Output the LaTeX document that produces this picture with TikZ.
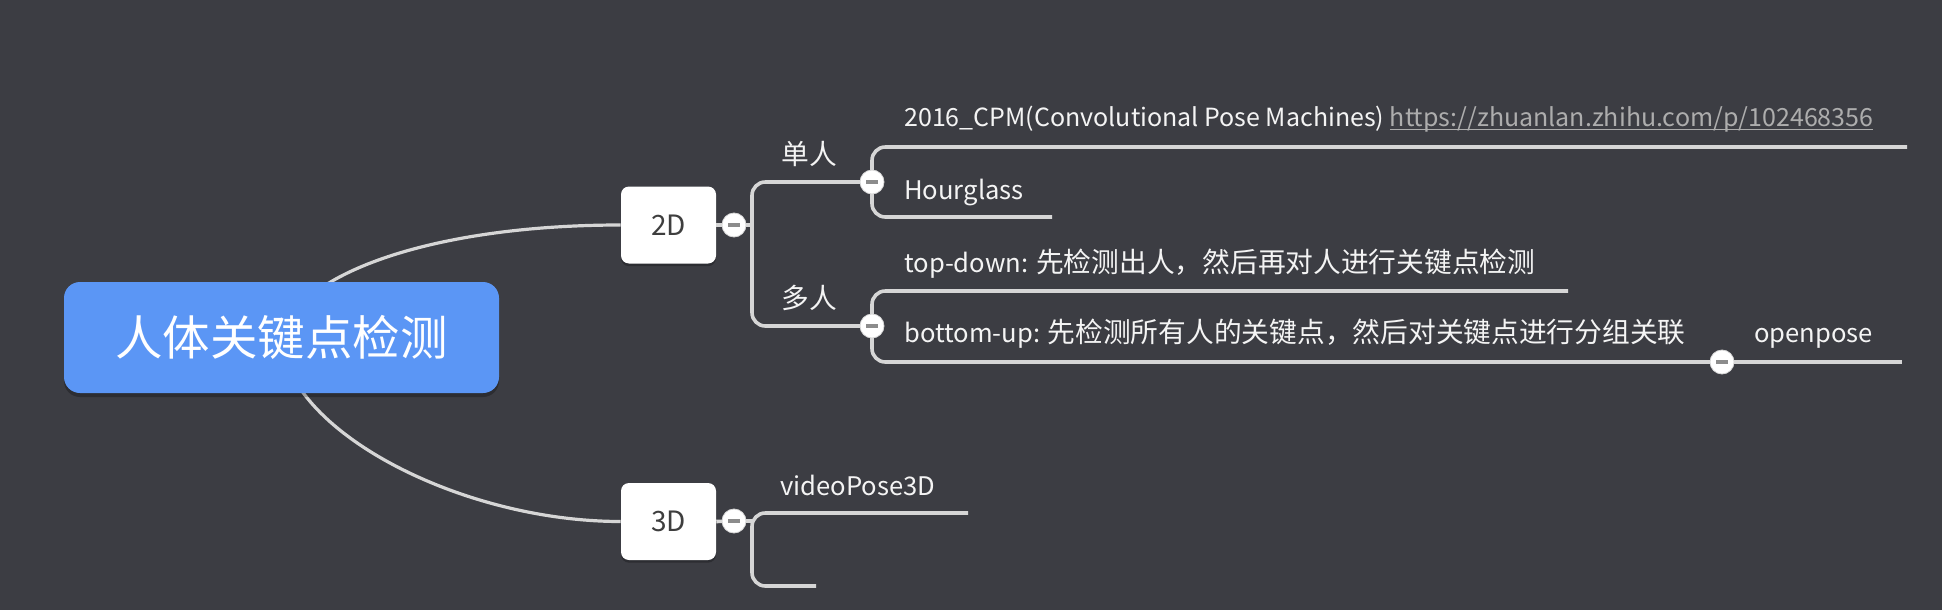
\documentclass[tikz,border=0pt]{standalone}
\usepackage{fontspec}
\setmainfont{Noto Sans CJK SC}
\usetikzlibrary{shadows}
\definecolor{bg}{HTML}{3C3D43}
\definecolor{rootblue}{HTML}{5B96F5}
\definecolor{linegray}{HTML}{D6D6D6}
\definecolor{txt}{HTML}{F4F4F4}
\definecolor{urlgray}{HTML}{ADADAD}
\definecolor{boxtext}{HTML}{3E3E3E}
\definecolor{minusgray}{HTML}{8C8C8C}
\pgfdeclarelayer{bglayer}
\pgfdeclarelayer{lines}
\pgfsetlayers{bglayer,lines,main}
\newcommand{\CJ}[1]{{\fontsize{20.8pt}{25pt}\selectfont #1}}
\newcommand{\ulink}[1]{\setbox0\hbox{#1}\rlap{\raisebox{-2.6pt}{\rule{\wd0}{0.9pt}}}\box0}
\begin{document}
\begin{tikzpicture}[x=0.75pt,y=-0.75pt,
  conn/.style={draw=linegray, line width=2.7pt, rounded corners=10pt},
  curve/.style={draw=linegray, line width=2.4pt},
  rootbox/.style={fill=rootblue, rounded corners=12pt, minimum width=326.25pt, minimum height=83.25pt,
    text=white, font=\fontsize{35.6pt}{42pt}\selectfont, inner sep=0pt,
    drop shadow={shadow xshift=0pt, shadow yshift=-3pt, opacity=0.25, fill=black}},
  topicbox/.style={fill=white, rounded corners=6pt, minimum width=71.25pt, minimum height=57.75pt,
    text=boxtext, font=\fontsize{21pt}{25pt}\selectfont, inner sep=0pt,
    drop shadow={shadow xshift=0pt, shadow yshift=-2pt, opacity=0.25, fill=black}},
  collapse/.style={circle, fill=white, draw=linegray, line width=0.6pt, minimum size=18pt, inner sep=0pt,
    path picture={\draw[minusgray, line width=3pt] ([xshift=-4.5pt]path picture bounding box.center) -- ([xshift=4.5pt]path picture bounding box.center);}},
  lbl/.style={anchor=base west, inner sep=0pt, text=txt, font=\fontsize{19.2pt}{23pt}\selectfont}
]
\begin{pgfonlayer}{bglayer}
\fill[bg] (0,0) rectangle (1942,610);
\end{pgfonlayer}
\useasboundingbox (0,0) rectangle (1942,610);

% main nodes
\node[rootbox] (root) at (281.5,337.5) {人体关键点检测};
\node[topicbox] (n2d) at (668.5,225) {2D};
\node[topicbox] (n3d) at (668.5,521.5) {3D};

% collapse buttons
\node[collapse] (c2d) at (734,225) {};
\node[collapse] (c3d) at (734,521) {};
\node[collapse] (cs) at (872,182) {};
\node[collapse] (cm) at (872,326) {};
\node[collapse] (co) at (1722,362) {};

% labels
\node[lbl] (single) at (781,164) {\CJ{单人}};
\node[lbl] (multi) at (781,308) {\CJ{多人}};
\node[lbl, font=\fontsize{18.75pt}{23pt}\selectfont] (cpm) at (904,127) {2016\_CPM(Convolutional Pose Machines) \textcolor{urlgray}{\ulink{https://zhuanlan.zhihu.com/p/102468356}}};
\node[lbl] (hg) at (904,199) {Hourglass};
\node[lbl] (td) at (904,272) {top-down: \CJ{先检测出人，然后再对人进行关键点检测}};
\node[lbl] (bu) at (904,342) {bottom-up: \CJ{先检测所有人的关键点，然后对关键点进行分组关联}};
\node[lbl] (op) at (1754,342) {openpose};
\node[lbl] (vp) at (780,495) {videoPose3D};

% helper coordinates
\coordinate (b2d) at (752,250);
\coordinate (b3d) at (752,550);
\coordinate (e1) at (1907,147);
\coordinate (e2) at (1052,217);
\coordinate (e3) at (1568,291);
\coordinate (e5) at (1902,362);
\coordinate (v1) at (968,513);
\coordinate (v2) at (816,586);

\begin{pgfonlayer}{lines}
\draw[curve] (root.center) .. controls (295,275) and (430,225) .. (n2d.west);
\draw[curve] (root.center) .. controls (285,430) and (460,521.5) .. (n3d.west);
\draw[conn] (n2d.east) -- (c2d.center);
\draw[conn] (n3d.east) -- (c3d.center);
\draw[conn] (c2d.center) -- (c2d.center -| b2d);
\draw[conn] (cs.center) -| (b2d) |- (cm.center);
\draw[conn] (e1) -| (cs.center) |- (e2);
\draw[conn] (e3) -| (cm.center) |- (co.center);
\draw[conn] (co.center) -- (e5);
\draw[conn] (c3d.center) -- (c3d.center -| b3d);
\draw[conn] (v1) -| (b3d) |- (v2);
\end{pgfonlayer}
\end{tikzpicture}
\end{document}
